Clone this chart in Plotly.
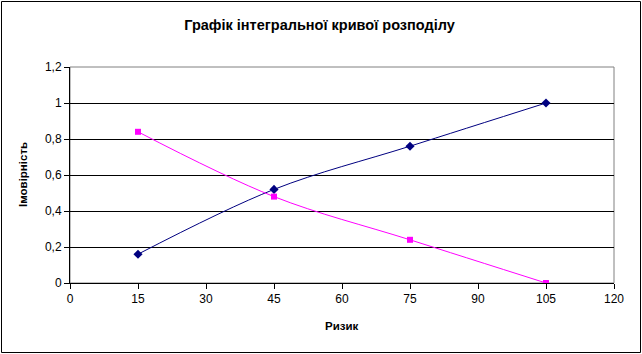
import plotly.graph_objects as go

risk = [15, 45, 75, 105]
series_a = [0.16, 0.52, 0.76, 1.0]
series_b = [0.84, 0.48, 0.24, 0.0]
x_ticks = [0, 15, 30, 45, 60, 75, 90, 105, 120]
y_ticks = [0, 0.2, 0.4, 0.6, 0.8, 1.0, 1.2]

W, H = 642, 354
L, R, T, B = 70, 28, 67, 71
pw, ph = W - L - R, H - T - B
FONT = "Liberation Sans, Arial, sans-serif"

fig = go.Figure()
fig.add_trace(go.Scatter(x=risk, y=series_a, mode="lines+markers",
                         line=dict(color="#000080", width=1, shape="spline", smoothing=1),
                         marker=dict(symbol="diamond", size=7, color="#000080"),
                         showlegend=False))
fig.add_trace(go.Scatter(x=risk, y=series_b, mode="lines+markers",
                         line=dict(color="#FF00FF", width=1, shape="spline", smoothing=1),
                         marker=dict(symbol="square", size=6, color="#FF00FF"),
                         showlegend=False))

fig.update_layout(
    width=W, height=H, autosize=False,
    margin=dict(l=L, r=R, t=T, b=B, pad=0),
    paper_bgcolor="white", plot_bgcolor="white",
    separators=", ",
    font=dict(family=FONT, size=12, color="black"),
    title=dict(text="<b>Графік інтегральної кривої розподілу</b>",
               x=(182 + 457) / 2 / W, xanchor="center", y=1 - 25 / H, yanchor="middle",
               font=dict(family=FONT, size=14.5, color="black")),
    xaxis=dict(range=[0, 120], tickvals=x_ticks, ticks="outside", ticklen=5,
               tickcolor="black", showline=True, linecolor="black", linewidth=1,
               showgrid=False, zeroline=False, tickfont=dict(size=12)),
    yaxis=dict(range=[0, 1.2], tickvals=y_ticks, ticks="outside", ticklen=5,
               tickcolor="black", showline=True, linecolor="black", linewidth=1,
               showgrid=True, gridcolor="black", gridwidth=1, zeroline=False,
               tickfont=dict(size=12)),
    shapes=[
        dict(type="rect", xref="paper", yref="paper", x0=0, x1=1, y0=0, y1=1,
             line=dict(color="#808080", width=1), layer="below"),
        dict(type="rect", xref="paper", yref="paper",
             x0=-(L - 1.5) / pw, x1=1 + (R - 1.5) / pw,
             y0=-(B - 1.5) / ph, y1=1 + (T - 1.5) / ph,
             line=dict(color="black", width=1)),
    ],
    annotations=[
        dict(text="<b>Ризик</b>", xref="paper", yref="paper", x=0.5,
             y=-(326 - T - ph) / ph, xanchor="center", yanchor="middle",
             showarrow=False, font=dict(family=FONT, size=11.5)),
        dict(text="<b>Імовірність</b>", xref="paper", yref="paper",
             x=-(L - 23) / pw, y=0.5, xanchor="center", yanchor="middle",
             textangle=-90, showarrow=False, font=dict(family=FONT, size=11.5)),
    ],
)

fig.write_html("out.html")
